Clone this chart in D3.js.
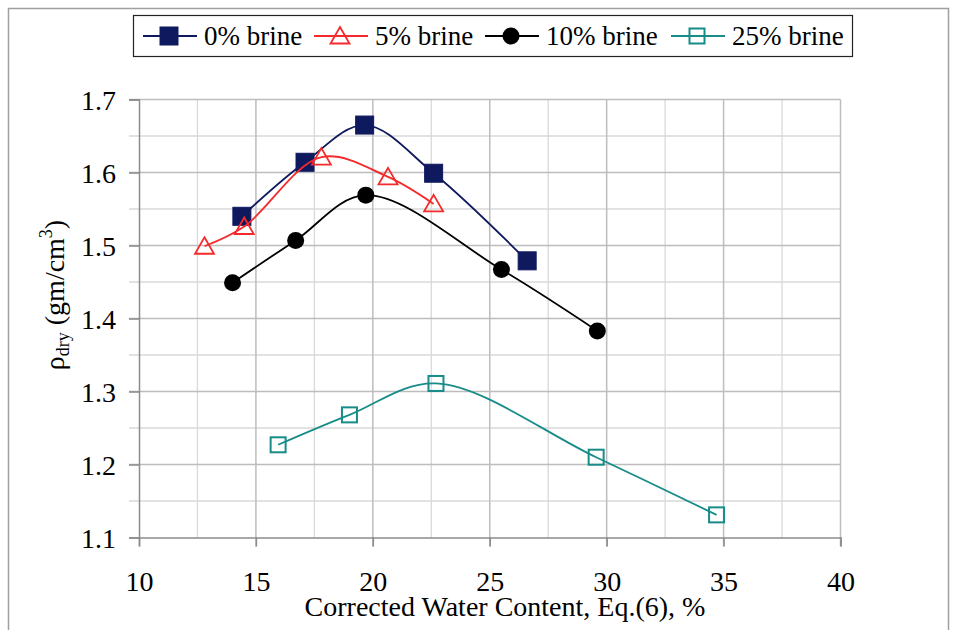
<!DOCTYPE html>
<html>
<head>
<meta charset="utf-8">
<script src="https://cdn.jsdelivr.net/npm/d3@7"></script>
<style>
  body { margin: 0; background: #fff; }
</style>
</head>
<body>
<div id="chart"></div>
<script>
// data
var seriesNames = ['0% brine', '5% brine', '10% brine', '25% brine']

var brine0 = [[14.4, 1.540], [17.1, 1.614], [19.65, 1.665], [22.6, 1.599], [26.6, 1.479]]
var brine5 = [[12.8, 1.499], [14.5, 1.526], [17.8, 1.621], [20.65, 1.594], [22.6, 1.557]]
var brine10 = [[14.0, 1.449], [16.7, 1.507], [19.7, 1.569], [25.5, 1.467], [29.6, 1.383]]
var brine25 = [[15.95, 1.227], [19.0, 1.268], [22.7, 1.311], [29.55, 1.210], [34.7, 1.131]]

var xTicks = [10, 15, 20, 25, 30, 35, 40]
var yTicks = [1.1, 1.2, 1.3, 1.4, 1.5, 1.6, 1.7]

var FONT = 'Liberation Serif'

var width = 957
var height = 630
var margin = { top: 99.5, left: 139, right: 116.5, bottom: 92.5 }

var svg = d3.select('#chart')
  .append('svg')
  .attr('width', width)
  .attr('height', height)
  .attr('font-family', FONT)

// outer frame
svg.append('path')
  .attr('d', 'M8.5,' + height + 'V8.5H948.5V' + height)
  .attr('fill', 'none')
  .attr('stroke', '#a0a0a0')
  .attr('stroke-width', 1.5)

var xPositionScale = d3.scaleLinear().domain([10, 40]).range([margin.left, width - margin.right])
var yPositionScale = d3.scaleLinear().domain([1.1, 1.7]).range([height - margin.bottom, margin.top])

// gridlines, minor first
var xMinor = d3.range(12.5, 40, 5)
var yMinor = d3.range(1.15, 1.7, 0.1)

svg.append('g').selectAll('line')
  .data(xMinor)
  .enter().append('line')
  .attr('x1', d => xPositionScale(d)).attr('x2', d => xPositionScale(d))
  .attr('y1', yPositionScale(1.1)).attr('y2', yPositionScale(1.7))
  .attr('stroke', '#d9d9d9').attr('stroke-width', 1.3)

svg.append('g').selectAll('line')
  .data(yMinor)
  .enter().append('line')
  .attr('x1', xPositionScale(10) - 10).attr('x2', xPositionScale(40))
  .attr('y1', d => yPositionScale(d)).attr('y2', d => yPositionScale(d))
  .attr('stroke', '#d9d9d9').attr('stroke-width', 1.3)

svg.append('g').selectAll('line')
  .data(xTicks.slice(1))
  .enter().append('line')
  .attr('x1', d => xPositionScale(d)).attr('x2', d => xPositionScale(d))
  .attr('y1', yPositionScale(1.1) + 9).attr('y2', yPositionScale(1.7))
  .attr('stroke', '#bdbdbd').attr('stroke-width', 1.5)

svg.append('g').selectAll('line')
  .data(yTicks.slice(1))
  .enter().append('line')
  .attr('x1', xPositionScale(10) - 10).attr('x2', xPositionScale(40))
  .attr('y1', d => yPositionScale(d)).attr('y2', d => yPositionScale(d))
  .attr('stroke', '#bdbdbd').attr('stroke-width', 1.5)

// axes
var xAxis = d3.axisBottom(xPositionScale).tickValues(xTicks).tickSize(9).tickPadding(25).tickFormat(d3.format('d'))
svg.append('g')
  .attr('class', 'axis x-axis')
  .attr('transform', 'translate(0,' + yPositionScale(1.1) + ')')
  .call(xAxis)

var yAxis = d3.axisLeft(yPositionScale).tickValues(yTicks).tickSize(10).tickPadding(13).tickFormat(d3.format('.1f'))
svg.append('g')
  .attr('class', 'axis y-axis')
  .attr('transform', 'translate(' + xPositionScale(10) + ',0)')
  .call(yAxis)

svg.selectAll('.axis').attr('font-family', FONT).attr('font-size', 28)
svg.selectAll('.axis path, .axis line').attr('stroke', '#8c8c8c').attr('stroke-width', 1.5)
svg.selectAll('.axis text').attr('fill', '#000')
svg.selectAll('.y-axis text').attr('dy', '0.36em')

// axis titles
svg.append('text')
  .attr('x', 505)
  .attr('y', 616)
  .attr('text-anchor', 'middle')
  .attr('font-family', FONT)
  .attr('font-size', 28)
  .text('Corrected Water Content, Eq.(6), %')

var yTitle = svg.append('text')
  .attr('transform', 'translate(64,' + 295 + ') rotate(-90)')
  .attr('text-anchor', 'middle')
  .attr('font-family', FONT)
  .attr('font-size', 28)
yTitle.append('tspan').text('ρ')
yTitle.append('tspan').attr('font-size', 18).attr('dy', 5).text('dry')
yTitle.append('tspan').attr('dy', -5).text(' (gm/cm')
yTitle.append('tspan').attr('font-size', 18).attr('dy', -12).text('3')
yTitle.append('tspan').attr('dy', 12).text(')')

// series
var series = [
  { name: seriesNames[0], values: brine0, color: '#0f1a5e', shape: 'square', filled: true },
  { name: seriesNames[1], values: brine5, color: '#f52a2a', shape: 'triangle', filled: false },
  { name: seriesNames[2], values: brine10, color: '#000000', shape: 'circle', filled: true },
  { name: seriesNames[3], values: brine25, color: '#178c88', shape: 'square', filled: false }
]

var line = d3.line()
  .x(d => xPositionScale(d[0]))
  .y(d => yPositionScale(d[1]))
  .curve(d3.curveCatmullRom.alpha(0.5))

function drawMarker(g, s, x, y) {
  if (s.shape === 'square') {
    var size = s.filled ? 18 : 15
    g.append('rect')
      .attr('x', x - size / 2).attr('y', y - size / 2)
      .attr('width', size).attr('height', size)
      .attr('fill', s.filled ? s.color : 'none')
      .attr('stroke', s.color).attr('stroke-width', s.filled ? 1 : 2)
  } else if (s.shape === 'circle') {
    g.append('circle')
      .attr('cx', x).attr('cy', y).attr('r', 8.5)
      .attr('fill', s.color)
  } else {
    g.append('path')
      .attr('d', 'M' + x + ',' + (y - 9) + 'L' + (x + 9.5) + ',' + (y + 7.5) + 'L' + (x - 9.5) + ',' + (y + 7.5) + 'Z')
      .attr('fill', 'none')
      .attr('stroke', s.color).attr('stroke-width', 1.8)
  }
}

series.forEach(function(s) {
  var g = svg.append('g')
  g.append('path')
    .datum(s.values)
    .attr('d', line)
    .attr('fill', 'none')
    .attr('stroke', s.color)
    .attr('stroke-width', 1.8)
  s.values.forEach(function(d) {
    drawMarker(g, s, xPositionScale(d[0]), yPositionScale(d[1]))
  })
})

// legend
var legend = svg.append('g')
legend.append('rect')
  .attr('x', 133.5).attr('y', 15.5)
  .attr('width', 719).attr('height', 41)
  .attr('fill', '#fff')
  .attr('stroke', '#222').attr('stroke-width', 1.2)

var legendX = [143, 314, 485, 671]
series.forEach(function(s, i) {
  var x0 = legendX[i]
  legend.append('line')
    .attr('x1', x0).attr('x2', x0 + 54)
    .attr('y1', 36).attr('y2', 36)
    .attr('stroke', s.color).attr('stroke-width', 1.8)
  drawMarker(legend, s, x0 + 26, 36)
  legend.append('text')
    .attr('x', x0 + 61)
    .attr('y', 45)
    .attr('font-family', FONT)
    .attr('font-size', 27)
    .text(s.name)
})
</script>
</body>
</html>
